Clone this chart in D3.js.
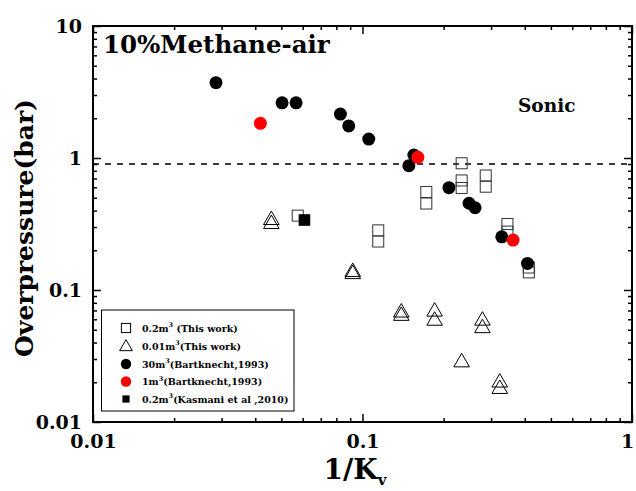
<!DOCTYPE html>
<html>
  <head>
    <meta charset="utf-8" />
    <title>Overpressure vs 1/Kv</title>
    <script src="https://d3js.org/d3.v7.min.js"></script>
    <style>
      body { margin: 0; background: #fff; }
      svg { display: block; font-family: "DejaVu Serif", serif; font-weight: bold; }
    </style>
  </head>
  <body>
    <svg width="636" height="491"></svg>
    <script>
      // 0.2 m3 (this work) - open squares
      const squareX = [0.0575, 0.1144, 0.1144, 0.1725, 0.1725, 0.2333, 0.2333, 0.2333, 0.2866, 0.2866, 0.345, 0.345, 0.4142, 0.4142];
      const squareY = [0.366, 0.283, 0.233, 0.553, 0.452, 0.912, 0.676, 0.593, 0.737, 0.606, 0.316, 0.277, 0.148, 0.136];
      // 0.01 m3 (this work) - open triangles
      const triX = [0.0459, 0.0459, 0.092, 0.092, 0.1393, 0.1393, 0.1852, 0.1852, 0.2333, 0.2786, 0.2786, 0.3231, 0.3231];
      const triY = [0.339, 0.316, 0.137, 0.132, 0.0675, 0.0637, 0.0686, 0.0585, 0.0283, 0.0586, 0.0514, 0.0199, 0.0178];
      // 30 m3 (Bartknecht 1993) - black circles
      const bartX = [0.0286, 0.0503, 0.0567, 0.0828, 0.0889, 0.1055, 0.1551, 0.1486, 0.2093, 0.2485, 0.2616, 0.3287, 0.4095];
      const bartY = [3.72, 2.62, 2.62, 2.15, 1.75, 1.39, 1.054, 0.874, 0.596, 0.454, 0.420, 0.253, 0.159];
      // 1 m3 (Bartknecht 1993) - red circles
      const bart1X = [0.0418, 0.1605, 0.362];
      const bart1Y = [1.83, 1.012, 0.239];
      // 0.2 m3 (Kasmani et al 2010) - filled square
      const kasX = [0.0609];
      const kasY = [0.339];

      const sonicLine = 0.9;
      const xTicks = [0.01, 0.1, 1];
      const yTicks = [0.01, 0.1, 1, 10];

      const svg = d3.select("svg");
      const margin = { top: 26, right: 4, bottom: 69, left: 93 };
      const W = 636, H = 491;

      const x = d3.scaleLog().domain([0.01, 1]).range([margin.left, W - margin.right]);
      const y = d3.scaleLog().domain([0.01, 10]).range([H - margin.bottom, margin.top]);

      const minor = (lo, hi) => {
        const out = [];
        for (let e = lo; e < hi; e++) for (let k = 2; k <= 9; k++) out.push(k * Math.pow(10, e));
        return out;
      };
      const xMinor = minor(-2, 0);
      const yMinor = minor(-2, 1);
      const fmt = d => String(+d.toPrecision(3));

      const x0 = x.range()[0], x1 = x.range()[1];
      const y0 = y.range()[0], y1 = y.range()[1];

      // axes, ticks pointing inward on all four sides
      function drawAxis(axisFn, pos, vals, size, labels) {
        const g = svg.append("g").attr("transform", pos);
        const a = axisFn.tickValues(vals).tickSizeInner(size).tickSizeOuter(0);
        if (labels) a.tickFormat(fmt).tickPadding(8); else a.tickFormat("");
        g.call(a);
        g.select(".domain").remove();
        g.selectAll(".tick line").attr("stroke", "#000").attr("stroke-width", 1.5);
        g.selectAll("text").attr("font-family", "DejaVu Serif").attr("font-weight", "bold")
          .attr("font-size", 19).attr("fill", "#000");
        return g;
      }
      const bx = drawAxis(d3.axisBottom(x), `translate(0,${y0})`, xTicks, -8, true);
      bx.selectAll("text").attr("dy", "0.95em").attr("dx", d => d === 1 ? -5 : 0);
      drawAxis(d3.axisBottom(x), `translate(0,${y0})`, xMinor, -4, false);
      drawAxis(d3.axisTop(x), `translate(0,${y1})`, xTicks, -8, false);
      drawAxis(d3.axisTop(x), `translate(0,${y1})`, xMinor, -4, false);
      const ly = drawAxis(d3.axisLeft(y), `translate(${x0},0)`, yTicks, -8, true);
      ly.selectAll("text").attr("x", -11);
      drawAxis(d3.axisLeft(y), `translate(${x0},0)`, yMinor, -4, false);
      drawAxis(d3.axisRight(y), `translate(${x1},0)`, yTicks, -8, false);
      drawAxis(d3.axisRight(y), `translate(${x1},0)`, yMinor, -4, false);

      svg.append("rect")
        .attr("x", x0).attr("y", y1).attr("width", x1 - x0).attr("height", y0 - y1)
        .attr("fill", "none").attr("stroke", "#000").attr("stroke-width", 2);

      // sonic reference line
      svg.append("line")
        .attr("x1", x0).attr("x2", x1).attr("y1", y(sonicLine)).attr("y2", y(sonicLine))
        .attr("stroke", "#000").attr("stroke-width", 1.5).attr("stroke-dasharray", "6,6");

      const zip = (xs, ys) => xs.map((v, i) => [v, ys[i]]);

      svg.append("g").selectAll("rect").data(zip(squareX, squareY)).join("rect")
        .attr("x", d => x(d[0]) - 5.5).attr("y", d => y(d[1]) - 5.5)
        .attr("width", 11).attr("height", 11)
        .attr("fill", "none").attr("stroke", "#333").attr("stroke-width", 1);

      const tri = d3.symbol().type(d3.symbolTriangle).size(105);
      svg.append("g").selectAll("path").data(zip(triX, triY)).join("path")
        .attr("d", tri)
        .attr("transform", d => `translate(${x(d[0])},${y(d[1])})`)
        .attr("fill", "none").attr("stroke", "#000").attr("stroke-width", 1);

      svg.append("g").selectAll("circle").data(zip(bartX, bartY)).join("circle")
        .attr("cx", d => x(d[0])).attr("cy", d => y(d[1])).attr("r", 6.5).attr("fill", "#000");

      svg.append("g").selectAll("circle").data(zip(bart1X, bart1Y)).join("circle")
        .attr("cx", d => x(d[0])).attr("cy", d => y(d[1])).attr("r", 6.5).attr("fill", "#ff0000");

      svg.append("g").selectAll("rect").data(zip(kasX, kasY)).join("rect")
        .attr("x", d => x(d[0]) - 5.8).attr("y", d => y(d[1]) - 5.8)
        .attr("width", 11.6).attr("height", 11.6).attr("fill", "#000");

      // labels
      svg.append("text").attr("x", 103).attr("y", 53).attr("font-size", 24.5).text("10%Methane-air");
      svg.append("text").attr("x", 518).attr("y", 112).attr("font-size", 18.5).text("Sonic");

      const xt = svg.append("text").attr("x", 355).attr("y", 479).attr("text-anchor", "middle").attr("font-size", 28);
      xt.append("tspan").text("1/K");
      xt.append("tspan").attr("font-size", 15).attr("dy", 6).text("v");

      svg.append("text").attr("transform", "translate(33,228) rotate(-90)")
        .attr("text-anchor", "middle").attr("font-size", 25).text("Overpressure(bar)");

      // legend
      const legend = svg.append("g");
      legend.append("rect").attr("x", 101.5).attr("y", 310).attr("width", 192.5).attr("height", 101)
        .attr("fill", "#fff").attr("stroke", "#000").attr("stroke-width", 1);

      const legendItems = [
        { pre: "0.2m", post: " (This work)", mark: "square" },
        { pre: "0.01m", post: "(This work)", mark: "tri" },
        { pre: "30m", post: "(Bartknecht,1993)", mark: "black" },
        { pre: "1m", post: "(Bartknecht,1993)", mark: "red" },
        { pre: "0.2m", post: "(Kasmani et al ,2010)", mark: "filled" }
      ];
      const rowY = [328, 346, 364, 381.5, 399];
      legendItems.forEach((it, i) => {
        const cy = rowY[i], cx = 126;
        if (it.mark === "square") legend.append("rect").attr("x", cx - 4.6).attr("y", cy - 4.6).attr("width", 9.2).attr("height", 9.2)
          .attr("fill", "none").attr("stroke", "#000").attr("stroke-width", 1);
        if (it.mark === "tri") legend.append("path").attr("d", d3.symbol().type(d3.symbolTriangle).size(70)())
          .attr("transform", `translate(${cx},${cy + 1})`).attr("fill", "none").attr("stroke", "#000");
        if (it.mark === "black" || it.mark === "red") legend.append("circle").attr("cx", cx).attr("cy", cy).attr("r", 5.2)
          .attr("fill", it.mark === "red" ? "#ff0000" : "#000");
        if (it.mark === "filled") legend.append("rect").attr("x", cx - 3.6).attr("y", cy - 3.6).attr("width", 7.2).attr("height", 7.2).attr("fill", "#000");
        const t = legend.append("text").attr("x", 142).attr("y", cy + 3.5).attr("font-size", 9.5);
        t.append("tspan").text(it.pre);
        t.append("tspan").attr("font-size", 6.5).attr("dy", -4.5).text("3");
        t.append("tspan").attr("dy", 4.5).text(it.post);
      });
    </script>
  </body>
</html>
